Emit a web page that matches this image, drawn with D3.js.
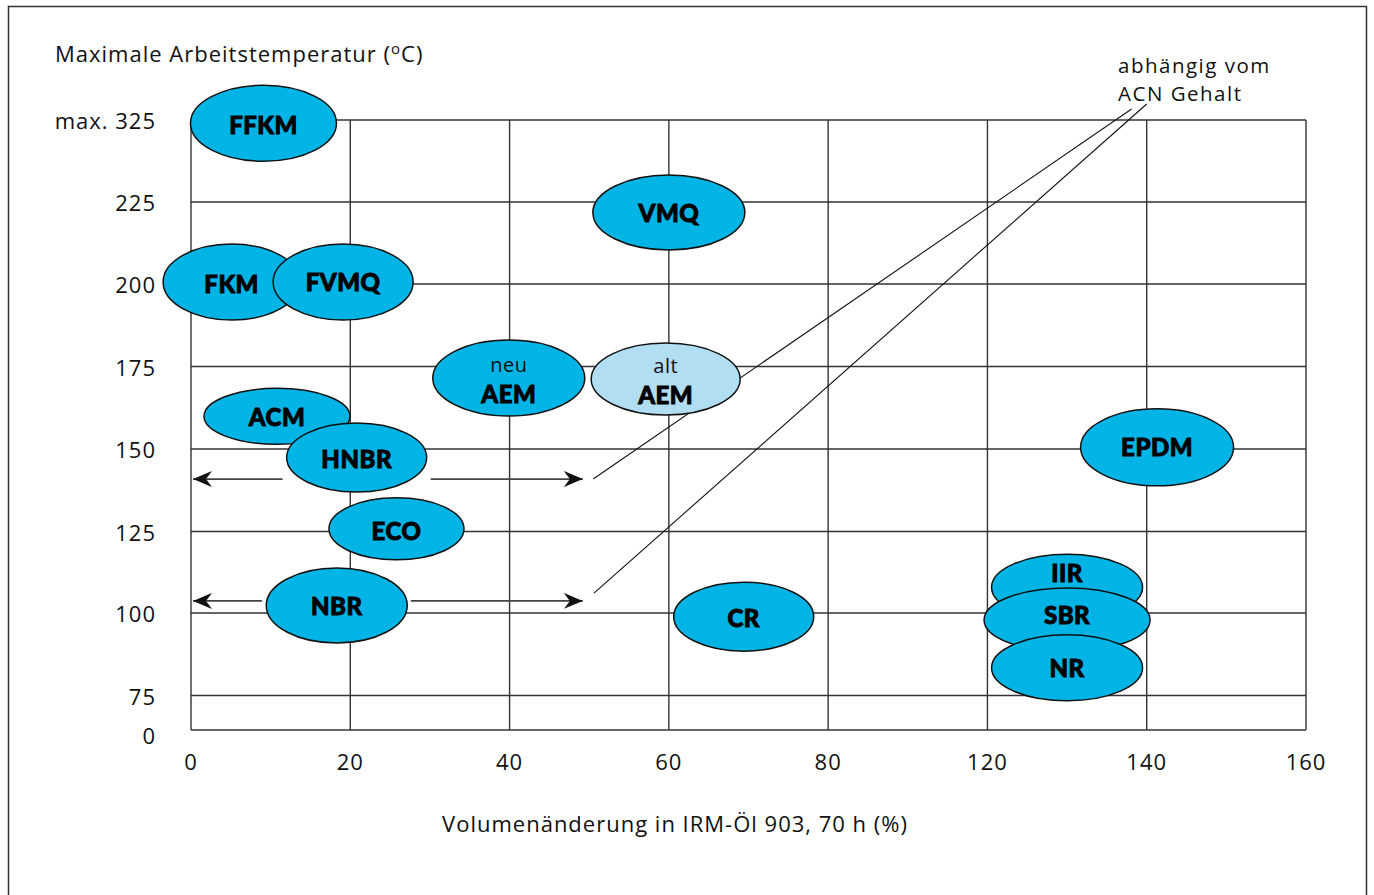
<!DOCTYPE html>
<html>
<head>
<meta charset="utf-8">
<script src="https://cdn.jsdelivr.net/npm/d3@7"></script>
<style>
  body { margin: 0; background: #fff; }
  svg { display: block; font-family: "Open Sans", "Noto Sans", sans-serif; }
</style>
</head>
<body>
<svg></svg>
<script>
const [svgWidth, svgHeight] = [1374, 895];

// tick values as printed on the axes (the scale is not uniform)
const xTicks = [0, 20, 40, 60, 80, 120, 140, 160];
const yTicks = [0, 75, 100, 125, 150, 175, 200, 225, 325];
const yTickLabels = ['0', '75', '100', '125', '150', '175', '200', '225', 'max. 325'];

// materials: name, volume change (%), max. working temperature (°C)
const materials = ['FFKM', 'VMQ', 'FKM', 'FVMQ', 'AEM', 'AEM', 'ACM', 'HNBR', 'ECO', 'NBR', 'CR', 'EPDM', 'IIR', 'SBR', 'NR'];
const subLabels = ['', '', '', '', 'neu', 'alt', '', '', '', '', '', '', '', '', ''];
const volChange = [9.1, 60, 5.1, 19.1, 39.9, 59.6, 10.8, 20.8, 25.8, 18.3, 69.4, 141.3, 130, 130, 130];
const maxTemp = [321, 221.8, 200.6, 200.6, 171.5, 171.2, 159.9, 147.4, 125.8, 102.3, 98.9, 150.5, 107.9, 97.9, 83.4];

// range arrows for HNBR and NBR (x from, x to, temp)
const arrowTemp = [140.9, 103.7];
const arrowLeftEnd = [11.5, 8.9];
const arrowRightStart = [30.1, 27.6];
const arrowRightEnd = [49.2, 49.2];

// leader lines to the note "abhängig vom ACN Gehalt"
const leaderFrom = [[50.5, 140.9], [50.6, 106.1]];
const leaderTo = [[138.1, 338.4], [140, 344.5]];
const noteLines = ['abhängig vom', 'ACN Gehalt'];

// ellipse sizes and label offsets (px) per material, in drawing order
const radiusX = [73, 76, 68.5, 70, 76, 74.5, 73, 70, 67.5, 70.5, 70, 76.5, 75.5, 83, 75.5];
const radiusY = [38, 37.5, 38, 38, 38, 36, 28, 34.5, 31, 37.5, 34.5, 38.5, 33, 32, 33];
const labelShift = [2, 1, 2, 0, 0, 0, 1, 1, 2, 0, 1, 0, -14, -5, 0];
const fills = ['#00b4e5', '#00b4e5', '#00b4e5', '#00b4e5', '#00b4e5', '#b2def3', '#00b4e5', '#00b4e5', '#00b4e5', '#00b4e5', '#00b4e5', '#00b4e5', '#00b4e5', '#00b4e5', '#00b4e5'];

const svg = d3.select('svg')
  .attr('width', svgWidth)
  .attr('height', svgHeight);

const textStyle = sel => sel
  .attr('font-size', 22)
  .attr('letter-spacing', 1)
  .attr('fill', '#111');

const [plotLeft, plotRight, plotTop, plotBottom] = [191, 1306, 120, 730];
const xScale = d3.scaleLinear()
  .domain(xTicks)
  .range(xTicks.map((d, i) => plotLeft + i * (plotRight - plotLeft) / (xTicks.length - 1)));
const yScale = d3.scaleLinear()
  .domain(yTicks)
  .range([plotBottom, 695.5, 613, 531.5, 449, 366.5, 284, 202, plotTop]);

// frame
svg.append('rect')
  .attr('x', 8.5).attr('y', 6.5)
  .attr('width', 1358).attr('height', 900)
  .attr('fill', 'none')
  .attr('stroke', '#333')
  .attr('stroke-width', 1.5);

// grid
const grid = svg.append('g')
  .attr('stroke', '#333')
  .attr('stroke-width', 1.4);
grid.selectAll('line.h')
  .data(yTicks)
  .enter().append('line')
  .attr('class', 'h')
  .attr('x1', plotLeft).attr('x2', plotRight)
  .attr('y1', d => yScale(d)).attr('y2', d => yScale(d));
grid.selectAll('line.v')
  .data(xTicks)
  .enter().append('line')
  .attr('class', 'v')
  .attr('x1', d => xScale(d)).attr('x2', d => xScale(d))
  .attr('y1', plotTop).attr('y2', plotBottom);

// tick labels
svg.append('g').selectAll('text')
  .data(yTicks)
  .enter().append('text')
  .call(textStyle)
  .attr('x', 156)
  .attr('y', d => yScale(d) + (d === 0 ? 5 : 0))
  .attr('text-anchor', 'end')
  .attr('dominant-baseline', 'central')
  .text((d, i) => yTickLabels[i]);
svg.append('g').selectAll('text')
  .data(xTicks)
  .enter().append('text')
  .call(textStyle)
  .attr('x', d => xScale(d))
  .attr('y', 770)
  .attr('text-anchor', 'middle')
  .text(d => d);

// axis titles
const yTitle = svg.append('text')
  .call(textStyle)
  .attr('x', 55).attr('y', 62);
yTitle.append('tspan').text('Maximale Arbeitstemperatur (');
yTitle.append('tspan').attr('font-size', 15).attr('dy', -8).text('o');
yTitle.append('tspan').attr('dy', 8).text('C)');
svg.append('text')
  .call(textStyle)
  .attr('x', 675).attr('y', 832)
  .attr('text-anchor', 'middle')
  .text('Volumenänderung in IRM-Öl 903, 70 h (%)');

// note
svg.append('g').selectAll('text')
  .data(noteLines)
  .enter().append('text')
  .call(textStyle)
  .attr('font-size', 20.5)
  .attr('letter-spacing', 1.5)
  .attr('x', 1118)
  .attr('y', (d, i) => 73 + i * 28)
  .text(d => d);

// leader lines
svg.append('g').selectAll('line')
  .data(leaderFrom)
  .enter().append('line')
  .attr('x1', d => xScale(d[0])).attr('y1', d => yScale(d[1]))
  .attr('x2', (d, i) => xScale(leaderTo[i][0])).attr('y2', (d, i) => yScale(leaderTo[i][1]))
  .attr('stroke', '#111')
  .attr('stroke-width', 1.1);

// arrows
svg.append('defs').append('marker')
  .attr('id', 'head')
  .attr('markerUnits', 'userSpaceOnUse')
  .attr('viewBox', '-19 -8 20 16')
  .attr('markerWidth', 20).attr('markerHeight', 16)
  .attr('refX', 0).attr('refY', 0)
  .attr('orient', 'auto')
  .append('path')
  .attr('d', 'M0,0 L-19,-8 L-13,0 L-19,8 Z')
  .attr('fill', '#111');

const arrows = svg.append('g')
  .attr('stroke', '#444')
  .attr('stroke-width', 1.8);
arrows.selectAll('line.l')
  .data(arrowTemp)
  .enter().append('line')
  .attr('class', 'l')
  .attr('x1', (d, i) => xScale(arrowLeftEnd[i])).attr('x2', xScale(0) + 2)
  .attr('y1', d => yScale(d)).attr('y2', d => yScale(d))
  .attr('marker-end', 'url(#head)');
arrows.selectAll('line.r')
  .data(arrowTemp)
  .enter().append('line')
  .attr('class', 'r')
  .attr('x1', (d, i) => xScale(arrowRightStart[i])).attr('x2', (d, i) => xScale(arrowRightEnd[i]))
  .attr('y1', d => yScale(d)).attr('y2', d => yScale(d))
  .attr('marker-end', 'url(#head)');

// material ellipses
const blobs = svg.append('g').selectAll('g')
  .data(d3.range(materials.length))
  .enter().append('g')
  .attr('transform', i => `translate(${xScale(volChange[i])}, ${yScale(maxTemp[i])})`);
blobs.append('ellipse')
  .attr('rx', i => radiusX[i])
  .attr('ry', i => radiusY[i])
  .attr('fill', i => fills[i])
  .attr('stroke', '#111')
  .attr('stroke-width', 1.5);
blobs.append('text')
  .attr('text-anchor', 'middle')
  .attr('y', i => (subLabels[i] ? 24.5 : 9) + labelShift[i])
  .attr('font-family', 'Lato, "Open Sans", sans-serif')
  .attr('font-weight', 900)
  .attr('font-size', 24)
  .attr('letter-spacing', 0.5)
  .attr('fill', '#000')
  .attr('stroke', '#000')
  .attr('stroke-width', 0.9)
  .text(i => materials[i]);
blobs.filter(i => subLabels[i])
  .append('text')
  .call(textStyle)
  .attr('font-size', 20)
  .attr('letter-spacing', 0.5)
  .attr('text-anchor', 'middle')
  .attr('y', -6)
  .text(i => subLabels[i]);
</script>
</body>
</html>
